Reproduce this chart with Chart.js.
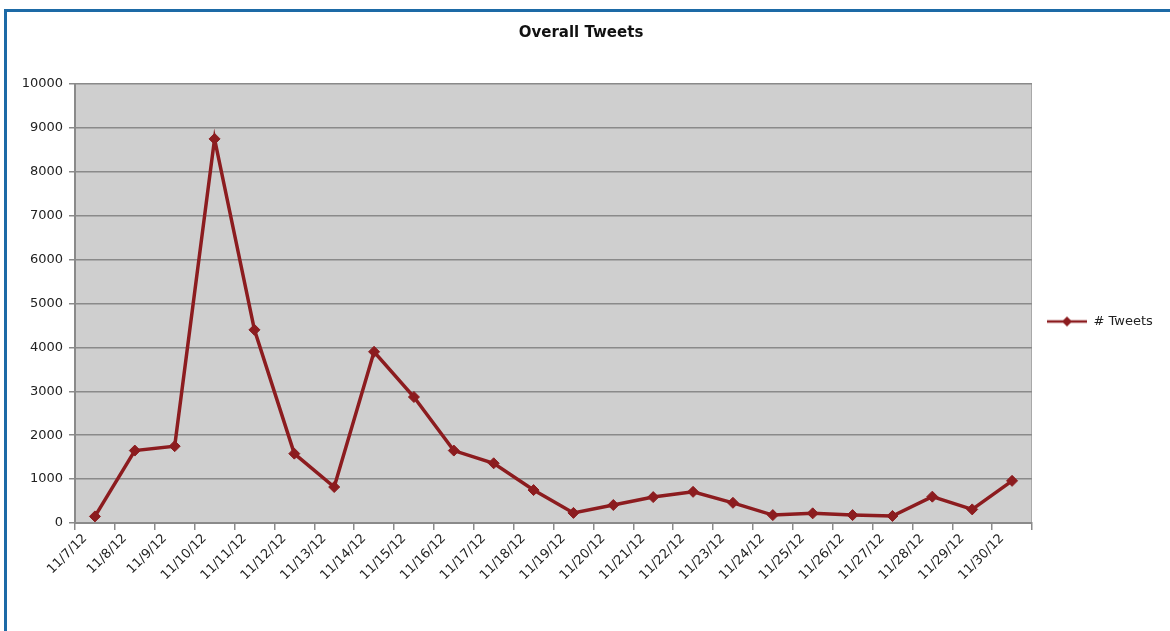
<!DOCTYPE html>
<html>
<head>
<meta charset="utf-8">
<script src="https://cdn.jsdelivr.net/npm/chart.js@4.4.1/dist/chart.umd.min.js"></script>
<style>
  html, body { margin: 0; padding: 0; background: #ffffff; }
  #wrap { position: relative; width: 1170px; height: 631px; overflow: hidden; }
  #frame {
    position: absolute; left: 4px; top: 9px; right: 0; bottom: 0;
    border-top: 3px solid #1d6aa6; border-left: 3px solid #1d6aa6;
    pointer-events: none;
  }
  #c { position: absolute; left: 0; top: 0; }
</style>
</head>
<body>
<div id="wrap">
  <div id="frame"></div>
  <canvas id="c" width="1170" height="631"></canvas>
</div>
<script>
// Daily tweet counts, November 2012
const chartTitle = 'Overall Tweets';
const seriesName = '# Tweets';
const dates = [
  '11/7/12', '11/8/12', '11/9/12', '11/10/12', '11/11/12', '11/12/12',
  '11/13/12', '11/14/12', '11/15/12', '11/16/12', '11/17/12', '11/18/12',
  '11/19/12', '11/20/12', '11/21/12', '11/22/12', '11/23/12', '11/24/12',
  '11/25/12', '11/26/12', '11/27/12', '11/28/12', '11/29/12', '11/30/12'
];
const tweets = [
  150, 1650, 1750, 8750, 4400, 1580,
  820, 3900, 2870, 1650, 1360, 750,
  230, 410, 590, 710, 460, 180,
  220, 180, 160, 600, 310, 960
];
const yMin = 0;
const yMax = 10000;
const yStep = 1000;

const LINE_COLOR = '#8c1c1f';
const GRID_COLOR = '#8a8a8a';
const TEXT_COLOR = '#222222';
const FONT = '"DejaVu Sans", Verdana, sans-serif';

// Legend swatch: short line with a diamond in the middle
function makeSwatch() {
  const cv = document.createElement('canvas');
  cv.width = 40; cv.height = 12;
  const g = cv.getContext('2d');
  g.strokeStyle = LINE_COLOR;
  g.lineWidth = 2.5;
  g.beginPath(); g.moveTo(0, 6); g.lineTo(40, 6); g.stroke();
  g.fillStyle = LINE_COLOR;
  g.beginPath();
  g.moveTo(20, 1); g.lineTo(25, 6); g.lineTo(20, 11); g.lineTo(15, 6);
  g.closePath(); g.fill();
  return cv;
}
const swatch = makeSwatch();

// Grey plot area behind the series
const plotBackground = {
  id: 'plotBackground',
  beforeDraw(chart) {
    const { ctx, chartArea: a } = chart;
    ctx.save();
    ctx.fillStyle = '#cfcfcf';
    ctx.fillRect(a.left, a.top, a.right - a.left, a.bottom - a.top);
    ctx.strokeStyle = '#a8a8a8';
    ctx.lineWidth = 1;
    ctx.beginPath();
    ctx.moveTo(a.right - 0.5, a.top);
    ctx.lineTo(a.right - 0.5, a.bottom);
    ctx.stroke();
    ctx.restore();
  }
};

// Fixed width for the legend column on the right
const legendWidth = {
  id: 'legendWidth',
  beforeLayout(chart) {
    const lg = chart.legend;
    if (lg && !lg._fixedWidth) {
      const fit = lg.fit.bind(lg);
      lg.fit = function () { fit(); this.width = 126; };
      lg._fixedWidth = true;
    }
  }
};

new Chart(document.getElementById('c'), {
  type: 'line',
  data: {
    labels: dates,
    datasets: [{
      label: seriesName,
      data: tweets,
      borderColor: LINE_COLOR,
      backgroundColor: LINE_COLOR,
      borderWidth: 3.5,
      pointStyle: 'rectRot',
      pointRadius: 5.5,
      pointBackgroundColor: LINE_COLOR,
      pointBorderColor: LINE_COLOR,
      pointBorderWidth: 1,
      tension: 0,
      fill: false
    }]
  },
  options: {
    responsive: false,
    devicePixelRatio: 1,
    animation: false,
    layout: { padding: { left: 4, right: 12, top: 12, bottom: 0 } },
    plugins: {
      title: {
        display: true,
        text: chartTitle,
        color: '#111111',
        font: { family: FONT, size: 15, weight: 'bold', lineHeight: 1.2 },
        padding: { top: 12, bottom: 42 }
      },
      legend: {
        position: 'right',
        labels: {
          usePointStyle: true,
          pointStyleWidth: 40,
          padding: 15,
          color: TEXT_COLOR,
          font: { family: FONT, size: 13 },
          generateLabels(chart) {
            const items = Chart.defaults.plugins.legend.labels.generateLabels(chart);
            items.forEach(it => { it.pointStyle = swatch; });
            return items;
          }
        }
      },
      tooltip: { enabled: false }
    },
    scales: {
      x: {
        type: 'category',
        offset: true,
        grid: {
          offset: true,
          drawOnChartArea: false,
          drawTicks: true,
          tickLength: 7,
          color: GRID_COLOR,
          lineWidth: 1.5
        },
        border: { display: true, color: GRID_COLOR, width: 2 },
        ticks: {
          minRotation: 45,
          maxRotation: 45,
          autoSkip: false,
          padding: 1,
          labelOffset: -10,
          color: TEXT_COLOR,
          font: { family: FONT, size: 13 }
        },
        afterFit(scale) { scale.height = 108; }
      },
      y: {
        min: yMin,
        max: yMax,
        grid: {
          color: GRID_COLOR,
          lineWidth: 1.5,
          drawTicks: true,
          tickLength: 6
        },
        border: { display: true, color: GRID_COLOR, width: 2 },
        ticks: {
          stepSize: yStep,
          padding: 6,
          color: TEXT_COLOR,
          font: { family: FONT, size: 13 },
          callback: (v) => String(v)
        },
        afterFit(scale) { scale.width = 71; }
      }
    }
  },
  plugins: [plotBackground, legendWidth]
});
</script>
</body>
</html>
